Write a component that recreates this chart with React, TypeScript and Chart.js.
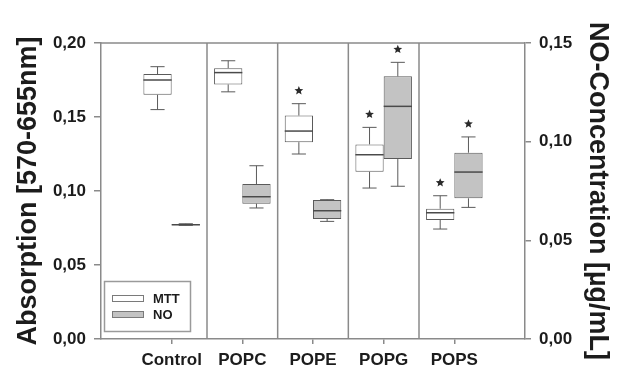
import React, { useEffect, useRef } from 'react';
import { Chart, registerables } from 'chart.js';

Chart.register(...registerables);

// ---- data ----
const categories = ['Control', 'POPC', 'POPE', 'POPG', 'POPS'];

// MTT absorption (left axis)
const mttLow = [0.155, 0.167, 0.125, 0.102, 0.0743];
const mttQ1 = [0.165, 0.172, 0.133, 0.113, 0.0804];
const mttMedian = [0.175, 0.180, 0.1405, 0.1245, 0.0853];
const mttQ3 = [0.179, 0.183, 0.151, 0.1315, 0.088];
const mttHigh = [0.184, 0.188, 0.159, 0.143, 0.0968];
const mttSignificant = [false, false, true, true, true];

// NO concentration (right axis)
const noLow = [0.0576, 0.0664, 0.0596, 0.0774, 0.0667];
const noQ1 = [0.0577, 0.0686, 0.0608, 0.0912, 0.0713];
const noMedian = [0.0579, 0.0721, 0.065, 0.1179, 0.0846];
const noQ3 = [0.0582, 0.0785, 0.0704, 0.1331, 0.0944];
const noHigh = [0.0584, 0.0878, 0.0706, 0.1402, 0.1024];
const noSignificant = [false, false, false, true, true];

const leftTicks = [0, 0.05, 0.1, 0.15, 0.2];
const rightTicks = [0, 0.05, 0.1, 0.15];

const TEXT = '#1c1c1c';
const FRAME = '#8a8a8a';
const BOXLINE = '#5a5a5a';
const MTT_FILL = '#ffffff';
const NO_FILL = '#c3c3c3';

const fmt = (v: number) => v.toFixed(2).replace('.', ',');

export default function App() {
  const ref = useRef<HTMLCanvasElement>(null);

  useEffect(() => {
    if (!ref.current) return;
    const labels = ['', ...categories, ''];
    const mttBoxes = [null, ...categories.map((_, i) => [mttQ1[i], mttQ3[i]]), null];
    const noBoxes = [null, ...categories.map((_, i) => [noQ1[i], noQ3[i]]), null];

    const stats = [
      { axis: 'y', low: mttLow, med: mttMedian, high: mttHigh, sig: mttSignificant },
      { axis: 'y1', low: noLow, med: noMedian, high: noHigh, sig: noSignificant },
    ];

    const drawStar = (ctx: CanvasRenderingContext2D, cx: number, cy: number, r: number) => {
      ctx.beginPath();
      for (let k = 0; k < 10; k++) {
        const rad = k % 2 === 0 ? r : r * 0.45;
        const a = -Math.PI / 2 + (k * Math.PI) / 5;
        const px = cx + rad * Math.cos(a);
        const py = cy + rad * Math.sin(a);
        if (k === 0) ctx.moveTo(px, py);
        else ctx.lineTo(px, py);
      }
      ctx.closePath();
      ctx.fill();
    };

    const boxPlugin = {
      id: 'boxExtras',
      afterDatasetsDraw(chart: any) {
        const ctx: CanvasRenderingContext2D = chart.ctx;
        const area = chart.chartArea;
        const xs = chart.scales.x;
        ctx.save();
        // frame top + dividers
        ctx.strokeStyle = FRAME;
        ctx.lineWidth = 1.5;
        ctx.beginPath();
        ctx.moveTo(area.left, area.top);
        ctx.lineTo(area.right, area.top);
        for (let i = 1; i < categories.length; i++) {
          const px = (xs.getPixelForValue(i) + xs.getPixelForValue(i + 1)) / 2;
          ctx.moveTo(px, area.top);
          ctx.lineTo(px, area.bottom);
        }
        ctx.stroke();

        // whiskers, medians, stars
        stats.forEach((s, di) => {
          const meta = chart.getDatasetMeta(di);
          const ys = chart.scales[s.axis];
          categories.forEach((_, i) => {
            const el = meta.data[i + 1];
            if (!el) return;
            const { x, width } = el.getProps(['x', 'width'], true);
            const q1 = di === 0 ? mttQ1[i] : noQ1[i];
            const q3 = di === 0 ? mttQ3[i] : noQ3[i];
            const yLow = ys.getPixelForValue(s.low[i]);
            const yHigh = ys.getPixelForValue(s.high[i]);
            const yQ1 = ys.getPixelForValue(q1);
            const yQ3 = ys.getPixelForValue(q3);
            const yMed = ys.getPixelForValue(s.med[i]);
            ctx.strokeStyle = BOXLINE;
            ctx.lineWidth = 1;
            ctx.beginPath();
            ctx.moveTo(x, yQ3);
            ctx.lineTo(x, yHigh);
            ctx.moveTo(x - width / 4, yHigh);
            ctx.lineTo(x + width / 4, yHigh);
            ctx.moveTo(x, yQ1);
            ctx.lineTo(x, yLow);
            ctx.moveTo(x - width / 4, yLow);
            ctx.lineTo(x + width / 4, yLow);
            ctx.stroke();
            ctx.lineWidth = 1.5;
            ctx.strokeStyle = '#4a4a4a';
            ctx.beginPath();
            ctx.moveTo(x - width / 2, yMed);
            ctx.lineTo(x + width / 2, yMed);
            ctx.stroke();
            if (s.sig[i]) {
              ctx.fillStyle = '#2a2a2a';
              drawStar(ctx, x, yHigh - 13, 4.6);
            }
          });
        });
        ctx.restore();
      },
      afterDraw(chart: any) {
        const ctx: CanvasRenderingContext2D = chart.ctx;
        ctx.save();
        // legend
        ctx.strokeStyle = '#9a9a9a';
        ctx.lineWidth = 1.5;
        ctx.strokeRect(104.5, 281.5, 86, 50);
        chart.data.datasets.forEach((ds: any, k: number) => {
          const yTop = 295.5 + k * 16;
          ctx.fillStyle = ds.backgroundColor;
          ctx.fillRect(112.5, yTop, 31, 6);
          ctx.strokeStyle = '#7a7a7a';
          ctx.lineWidth = 1;
          ctx.strokeRect(112.5, yTop, 31, 6);
          ctx.fillStyle = TEXT;
          ctx.font = 'bold 13px "Liberation Sans", Arial, sans-serif';
          ctx.textBaseline = 'middle';
          ctx.textAlign = 'left';
          ctx.fillText(ds.label, 153, yTop + 3.5);
        });
        ctx.restore();
      },
    };

    const tickFont = { family: '"Liberation Sans", Arial, sans-serif', size: 17, weight: 'bold' as const };
    const titleFont = { family: '"Liberation Sans", Arial, sans-serif', size: 27, weight: 'bold' as const };

    const chart = new Chart(ref.current, {
      type: 'bar',
      data: {
        labels,
        datasets: [
          {
            label: 'MTT',
            data: mttBoxes as any,
            backgroundColor: MTT_FILL,
            borderColor: BOXLINE,
            borderWidth: 1,
            borderSkipped: false,
            yAxisID: 'y',
            categoryPercentage: 0.8,
            barPercentage: 1,
          },
          {
            label: 'NO',
            data: noBoxes as any,
            backgroundColor: NO_FILL,
            borderColor: BOXLINE,
            borderWidth: 1,
            borderSkipped: false,
            yAxisID: 'y1',
            categoryPercentage: 0.8,
            barPercentage: 1,
          },
        ],
      },
      options: {
        responsive: false,
        animation: false,
        layout: { padding: { top: 43, left: 0, right: 0, bottom: 0 } },
        plugins: { legend: { display: false }, tooltip: { enabled: false } },
        scales: {
          x: {
            type: 'category',
            offset: false,
            grid: {
              offset: false,
              drawOnChartArea: false,
              drawTicks: true,
              tickLength: 5,
              lineWidth: 1.5,
              color: (c: any) => (c.index === 0 || c.index === labels.length - 1 ? 'rgba(0,0,0,0)' : FRAME),
            },
            border: { color: FRAME, width: 1.5 },
            ticks: { font: tickFont, color: TEXT, padding: 6, autoSkip: false, maxRotation: 0 },
            afterFit: (s: any) => { s.height = 37; },
          },
          y: {
            position: 'left',
            min: 0,
            max: 0.2,
            afterBuildTicks: (s: any) => { s.ticks = leftTicks.map((v) => ({ value: v })); },
            ticks: { font: tickFont, color: TEXT, padding: 8, callback: (v: any) => fmt(Number(v)) },
            grid: { drawOnChartArea: false, tickLength: 7, lineWidth: 1.5, color: FRAME },
            border: { color: FRAME, width: 1.5 },
            title: { display: true, text: 'Absorption [570-655nm]', font: titleFont, color: TEXT, padding: { top: 12, bottom: 0 } },
            afterFit: (s: any) => { s.width = 101; },
          },
          y1: {
            position: 'right',
            min: 0,
            max: 0.15,
            afterBuildTicks: (s: any) => { s.ticks = rightTicks.map((v) => ({ value: v })); },
            ticks: { font: tickFont, color: TEXT, padding: 8, callback: (v: any) => fmt(Number(v)) },
            grid: { drawOnChartArea: false, tickLength: 6, lineWidth: 1.5, color: FRAME },
            border: { color: FRAME, width: 1.5 },
            title: { display: true, text: 'NO-Concentration [µg/mL]', font: titleFont, color: TEXT, padding: { top: 8, bottom: 0 } },
            afterFit: (s: any) => { s.width = 97; },
          },
        },
      },
      plugins: [boxPlugin],
    });
    return () => chart.destroy();
  }, []);

  return (
    <div style={{ position: 'fixed', left: 0, top: 0, width: 622, height: 376, background: '#fff' }}>
      <canvas ref={ref} width={622} height={376} />
    </div>
  );
}
